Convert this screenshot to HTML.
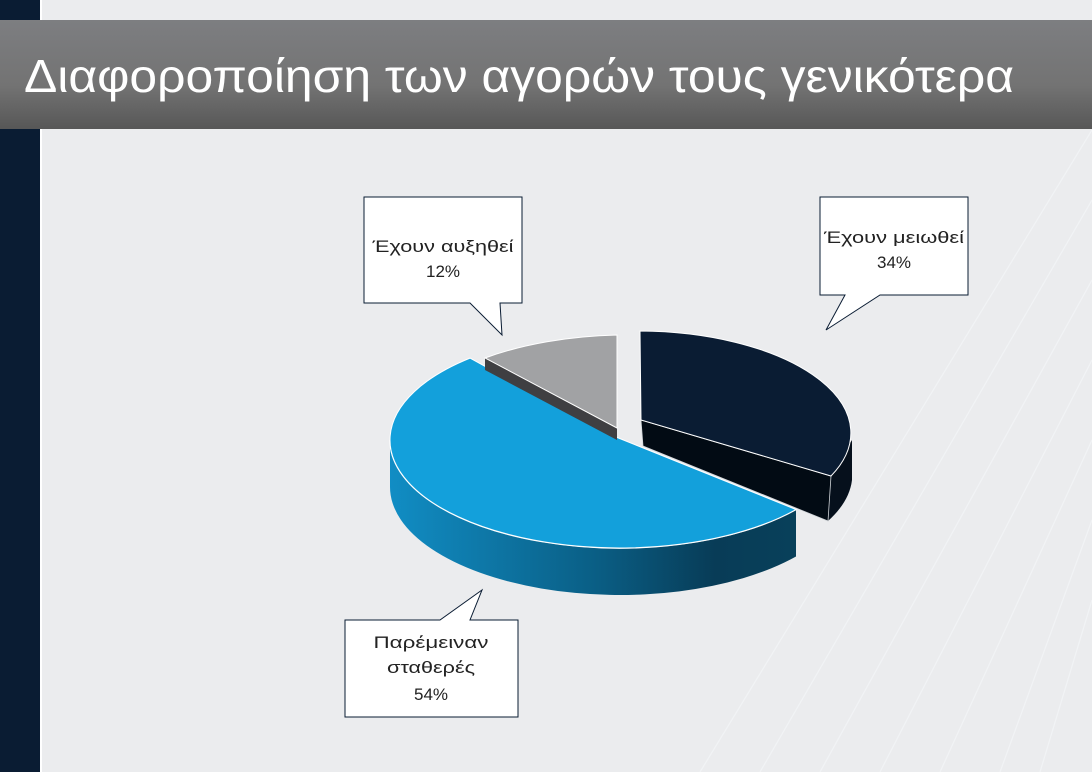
<!DOCTYPE html>
<html><head><meta charset="utf-8"><style>
body{margin:0;width:1092px;height:772px;overflow:hidden;background:#ebecee;font-family:"Liberation Sans","DejaVu Sans",sans-serif;}
</style></head><body>
<svg width="1092" height="772" xmlns="http://www.w3.org/2000/svg" style="position:absolute;left:0;top:0">
<defs>
<linearGradient id="tb" x1="0" y1="0" x2="0" y2="1">
<stop offset="0" stop-color="#7d7e81"/><stop offset="0.6" stop-color="#737373"/><stop offset="1" stop-color="#575757"/></linearGradient>
<linearGradient id="bs" x1="0" y1="0" x2="1" y2="0">
<stop offset="0" stop-color="#118dc4"/><stop offset="0.5" stop-color="#0a5f86"/><stop offset="0.8" stop-color="#083c57"/><stop offset="1" stop-color="#08405a"/></linearGradient>
</defs>
<rect width="1092" height="772" fill="#ebecee"/>
<g stroke="#f6f8fa" stroke-width="1.2" fill="none" opacity="0.6">
<line x1="1092" y1="130" x2="700" y2="772"/><line x1="1092" y1="200" x2="760" y2="772"/>
<line x1="1092" y1="280" x2="820" y2="772"/><line x1="1092" y1="360" x2="880" y2="772"/>
<line x1="1092" y1="440" x2="940" y2="772"/><line x1="1092" y1="520" x2="1000" y2="772"/>
<line x1="1092" y1="600" x2="1040" y2="772"/>
</g>
<rect x="0" y="0" width="40" height="772" fill="#0a1c33"/>
<rect x="40" y="0" width="2" height="772" fill="#ffffff"/>
<rect x="0" y="20" width="1092" height="109" fill="url(#tb)"/>
<text x="24" y="92" font-size="46" fill="#fff" textLength="990" lengthAdjust="spacingAndGlyphs">Διαφοροποίηση των αγορών τους γενικότερα</text>

<!-- blue side -->
<path d="M390,440 A230,108 0 0 0 796,509.5 L796,556.5 A230,108 0 0 1 390,487 Z" fill="url(#bs)"/>
<path d="M390,440 A230,108 0 0 0 796,509.5" fill="none" stroke="#fff" stroke-width="1.5"/>
<!-- blue top -->
<path d="M606,433 L470,358.1 A230,108 0 1 0 796,509.5 Z" fill="#13a0db" stroke="#fff" stroke-width="1"/>
<!-- gray -->
<path d="M485,358 L617,428 L617,440 L485,370 Z" fill="#3f3f42"/>
<path d="M617,428 L485,358 A230,105 0 0 1 617,335 Z" fill="#a1a2a4" stroke="#fff" stroke-width="1"/>
<!-- dark -->
<path d="M852,440 L852,480 A210,100 0 0 1 828,521 L830,475 Z" fill="#06101c"/>
<path d="M641,420 L831,476 L828,521 L643,446 Z" fill="#020b14" stroke="#d0d4d8" stroke-width="0.8"/>
<path d="M641,420 L640,331 A213,102 0 0 1 831,476 Z" fill="#0a1c33" stroke="#fff" stroke-width="1"/>

<!-- callouts -->
<g fill="#fff" stroke="#0a1c33" stroke-width="1">
<path d="M364,197 H522 V303 H500 L502,335 L470,303 H364 Z"/>
<path d="M820,197 H968 V295 H880 L826,330 L845,295 H820 Z"/>
<path d="M345,620 H440 L482,590 L470,620 H518 V717 H345 Z"/>
</g>
<g font-size="17" fill="#222" text-anchor="middle">
<text x="443" y="252" textLength="141" lengthAdjust="spacingAndGlyphs">Έχουν αυξηθεί</text><text x="443" y="277">12%</text>
<text x="894" y="243" textLength="140" lengthAdjust="spacingAndGlyphs">Έχουν μειωθεί</text><text x="894" y="268">34%</text>
<text x="431" y="648" textLength="115" lengthAdjust="spacingAndGlyphs">Παρέμειναν</text><text x="431" y="673" textLength="88" lengthAdjust="spacingAndGlyphs">σταθερές</text><text x="431" y="700">54%</text>
</g>
</svg>
</body></html>
